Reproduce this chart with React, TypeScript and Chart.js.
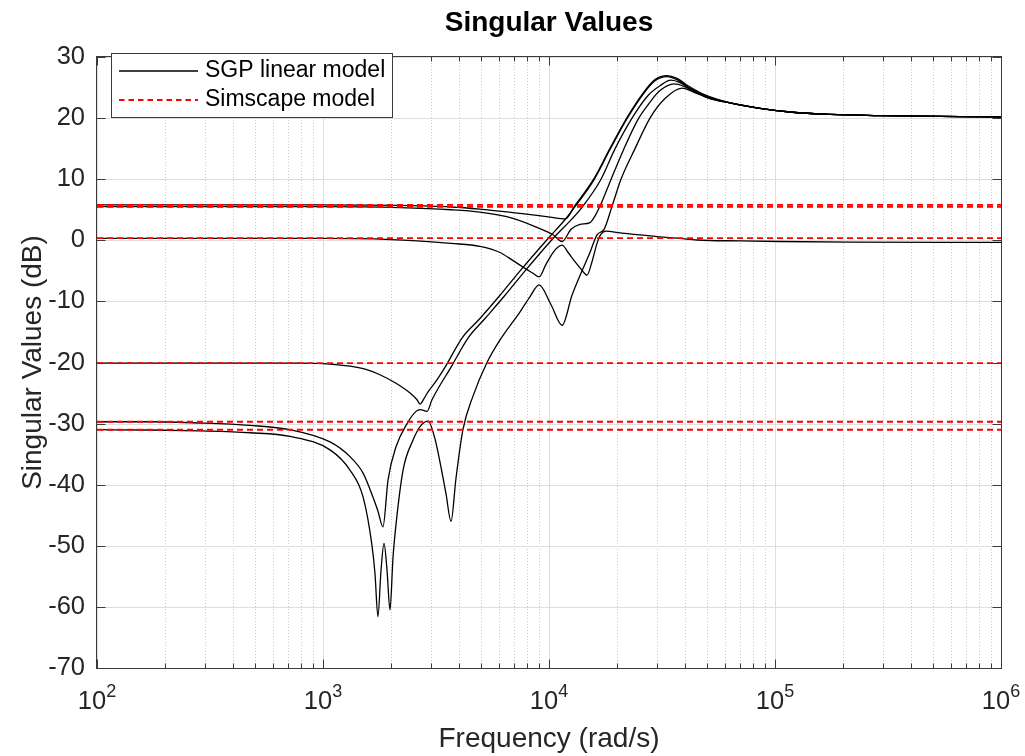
import React, { useEffect, useRef } from "react";
import { Chart, registerables } from "chart.js";

Chart.register(...registerables);

// ---------- data (frequency in rad/s, singular values in dB) ----------
const sv1Freq = [100, 1000, 2191, 3685, 4950, 7447, 10100, 11790, 13030, 15810, 18640, 22140, 26080, 29440, 33270, 36840, 41210, 49000, 63230, 85830, 116500, 175100, 291500, 1000000];
const sv1Db = [5.8, 5.8, 5.7, 5.45, 5.1, 4.4, 3.8, 3.5, 5.7, 10.1, 15.1, 20.1, 24.1, 26.3, 26.95, 26.5, 25.3, 23.8, 22.5, 21.6, 21.0, 20.6, 20.4, 20.2];

const sv2Freq = [100, 1000, 2191, 3685, 4950, 6925, 9128, 10420, 11430, 12520, 13710, 15180, 15990, 16820, 18830, 21470, 24770, 27980, 30980, 35730, 39570, 44260, 51580, 63230, 85830, 116500, 175100, 291500, 1000000];
const sv2Db = [5.5, 5.5, 5.35, 5.0, 4.6, 3.6, 1.9, 0.9, -0.2, 1.8, 2.6, 2.9, 4.0, 5.6, 10.0, 15.0, 19.8, 22.6, 24.5, 25.6, 25.2, 24.3, 23.2, 22.5, 21.6, 21.0, 20.6, 20.4, 20.2];

const sv3Freq = [100, 1000, 1786, 3036, 3685, 4950, 6071, 6855, 7836, 8498, 9036, 9706, 10420, 10970, 11430, 12150, 13030, 14000, 14730, 15500, 16310, 16990, 17880, 20610, 25290, 30060, 37990, 45170, 70010, 105200, 214700, 1000000];
const sv3Db = [0.3, 0.3, 0.2, -0.25, -0.5, -1.0, -2.0, -3.2, -4.6, -5.4, -6.0, -3.9, -2.0, -1.1, -0.8, -2.0, -3.5, -4.9, -5.7, -3.5, -0.5, 1.0, 1.5, 1.2, 0.9, 0.6, 0.3, 0.05, -0.1, -0.2, -0.3, -0.35];

const sv4Freq = [100, 791.4, 1074, 1316, 1535, 1786, 2104, 2428, 2606, 2687, 2799, 2917, 3130, 3502, 4121, 4950, 6071, 7447, 9910, 11790, 13030, 15810, 18640, 22140, 26080, 29440, 33270, 36840, 41210, 49000, 63230, 85830, 116500, 175100, 291500, 1000000];
const sv4Db = [-20.1, -20.1, -20.25, -20.6, -21.1, -22.0, -23.4, -25.0, -26.1, -26.8, -25.9, -24.8, -23.3, -20.5, -16.0, -12.8, -9.0, -5.0, 0.3, 3.4, 5.5, 9.9, 14.9, 19.9, 23.9, 26.1, 26.8, 26.3, 25.1, 23.7, 22.5, 21.6, 21.0, 20.6, 20.4, 20.2];

const sv5Freq = [100, 171.6, 285.6, 475.3, 714.5, 1074, 1316, 1504, 1663, 1750, 1842, 1940, 2104, 2355, 2580, 2687, 2886, 3036, 3721, 4382, 5210, 6388, 7836, 10420, 12640, 14140, 16990, 19610, 23300, 27430, 30980, 34660, 37990, 42060, 50020, 63230, 85830, 116500, 175100, 291500, 1000000];
const sv5Db = [-29.7, -29.7, -29.9, -30.3, -31.0, -33.0, -35.4, -38.1, -42.0, -44.3, -46.9, -39.2, -33.8, -30.0, -28.0, -27.7, -28.0, -26.1, -20.5, -16.0, -12.8, -9.0, -5.0, 0.3, 3.5, 5.6, 10.0, 15.0, 20.0, 23.7, 25.3, 26.2, 25.8, 24.8, 23.5, 22.5, 21.6, 21.0, 20.6, 20.4, 20.2];

const sv6Freq = [100, 171.6, 285.6, 475.3, 714.5, 1074, 1316, 1504, 1648, 1698, 1750, 1806, 1862, 1920, 1979, 2040, 2104, 2261, 2503, 2714, 2917, 3130, 3297, 3502, 3685, 3875, 4161, 4610, 5318, 6071, 7447, 8245, 9036, 10200, 11430, 12640, 14000, 15180, 16310, 17520, 19020, 20820, 24020, 27980, 32600, 38770, 43380, 51580, 63230, 85830, 116500, 175100, 291500, 1000000];
const sv6Db = [-31.0, -31.05, -31.2, -31.5, -32.1, -34.3, -37.6, -42.0, -50.0, -54.5, -61.6, -54.0, -49.6, -54.0, -60.5, -52.0, -46.5, -37.6, -32.7, -30.3, -29.6, -32.5, -36.4, -41.5, -46.0, -39.0, -31.0, -25.5, -20.0, -16.3, -11.7, -9.2, -7.3, -10.5, -13.9, -9.0, -5.0, -2.0, 0.9, 1.8, 5.6, 10.0, 15.0, 20.0, 23.2, 24.9, 24.3, 23.2, 22.5, 21.6, 21.0, 20.6, 20.4, 20.2];

const simscapeDb = [5.8, 5.5, 0.35, -20.1, -29.7, -31.0];
const freqRange = [100, 1000000];

const yTickValues = [30, 20, 10, 0, -10, -20, -30, -40, -50, -60, -70];
const xTickExponents = [2, 3, 4, 5, 6];
const minorMultipliers = [2, 3, 4, 5, 6, 7, 8, 9];

const titleText = "Singular Values";
const xLabelText = "Frequency (rad/s)";
const yLabelText = "Singular Values (dB)";
const sgpLabel = "SGP linear model";
const simLabel = "Simscape model";

const FONT = '"Liberation Sans", Arial, Helvetica, sans-serif';
const AXIS_COLOR = "#3a3a3a";
const TEXT_COLOR = "#262626";

const decorPlugin = {
  id: "decor",
  beforeDatasetsDraw(chart: any) {
    const { ctx, chartArea: a, scales } = chart;
    const x = scales.x;
    const y = scales.y;
    ctx.save();
    ctx.lineWidth = 1;
    ctx.strokeStyle = "#c9c9c9";
    ctx.setLineDash([1, 2]);
    for (let e = 2; e < 6; e++) {
      for (const m of minorMultipliers) {
        const px = Math.round(x.getPixelForValue(m * Math.pow(10, e))) + 0.5;
        ctx.beginPath();
        ctx.moveTo(px, a.top);
        ctx.lineTo(px, a.bottom);
        ctx.stroke();
      }
    }
    ctx.setLineDash([]);
    ctx.strokeStyle = "#dedede";
    for (const e of xTickExponents) {
      const px = Math.round(x.getPixelForValue(Math.pow(10, e))) + 0.5;
      ctx.beginPath();
      ctx.moveTo(px, a.top);
      ctx.lineTo(px, a.bottom);
      ctx.stroke();
    }
    for (const v of yTickValues) {
      const py = Math.round(y.getPixelForValue(v)) + 0.5;
      ctx.beginPath();
      ctx.moveTo(a.left, py);
      ctx.lineTo(a.right, py);
      ctx.stroke();
    }
    ctx.restore();
  },
  afterDatasetsDraw(chart: any) {
    const { ctx, chartArea: a, scales } = chart;
    const x = scales.x;
    const y = scales.y;
    ctx.save();
    ctx.strokeStyle = AXIS_COLOR;
    ctx.lineWidth = 1;
    const L = Math.round(a.left) - 0.5;
    const R = Math.round(a.right) + 0.5;
    const T = Math.round(a.top) - 0.5;
    const B = Math.round(a.bottom) + 0.5;
    ctx.strokeRect(L, T, R - L, B - T);
    const tick = (px: number, len: number) => {
      ctx.beginPath();
      ctx.moveTo(px, B);
      ctx.lineTo(px, B - len);
      ctx.moveTo(px, T);
      ctx.lineTo(px, T + len);
      ctx.stroke();
    };
    for (const e of xTickExponents) tick(Math.round(x.getPixelForValue(Math.pow(10, e))) + 0.5, 9);
    for (let e = 2; e < 6; e++)
      for (const m of minorMultipliers) tick(Math.round(x.getPixelForValue(m * Math.pow(10, e))) + 0.5, 5);
    for (const v of yTickValues) {
      const py = Math.round(y.getPixelForValue(v)) + 0.5;
      ctx.beginPath();
      ctx.moveTo(L, py);
      ctx.lineTo(L + 9, py);
      ctx.moveTo(R, py);
      ctx.lineTo(R - 9, py);
      ctx.stroke();
    }
    ctx.restore();
  },
  afterDraw(chart: any) {
    const { ctx, chartArea: a, scales } = chart;
    const x = scales.x;
    const y = scales.y;
    const cx = (a.left + a.right) / 2;
    const cy = (a.top + a.bottom) / 2;
    ctx.save();
    ctx.fillStyle = "#000";
    ctx.font = `bold 28px ${FONT}`;
    ctx.textAlign = "center";
    ctx.textBaseline = "alphabetic";
    ctx.fillText(titleText, cx, 31);
    ctx.fillStyle = TEXT_COLOR;
    ctx.font = `28px ${FONT}`;
    ctx.fillText(xLabelText, cx, 747);
    ctx.save();
    ctx.translate(41, cy);
    ctx.rotate(-Math.PI / 2);
    ctx.fillText(yLabelText, 0, 0);
    ctx.restore();
    ctx.font = `25.5px ${FONT}`;
    ctx.textAlign = "right";
    ctx.textBaseline = "middle";
    for (const v of yTickValues) {
      ctx.fillText(String(v), a.left - 12, y.getPixelForValue(v));
    }
    ctx.textAlign = "left";
    ctx.textBaseline = "alphabetic";
    for (const e of xTickExponents) {
      const px = x.getPixelForValue(Math.pow(10, e));
      ctx.font = `25.5px ${FONT}`;
      const wb = ctx.measureText("10").width;
      ctx.font = `18px ${FONT}`;
      const we = ctx.measureText(String(e)).width;
      const left = px - (wb + we) / 2;
      ctx.font = `25.5px ${FONT}`;
      ctx.fillText("10", left, 709);
      ctx.font = `18px ${FONT}`;
      ctx.fillText(String(e), left + wb, 697);
    }
    const bx = 111.5, by = 53.5, bw = 281, bh = 64;
    ctx.fillStyle = "#fff";
    ctx.fillRect(bx, by, bw, bh);
    ctx.strokeStyle = AXIS_COLOR;
    ctx.lineWidth = 1;
    ctx.strokeRect(bx, by, bw, bh);
    ctx.lineWidth = 1.3;
    ctx.strokeStyle = "#000";
    ctx.beginPath();
    ctx.moveTo(119, 71);
    ctx.lineTo(198, 71);
    ctx.stroke();
    ctx.strokeStyle = "rgb(255,0,0)";
    ctx.lineWidth = 1.8;
    ctx.setLineDash([5.5, 4]);
    ctx.beginPath();
    ctx.moveTo(119, 100);
    ctx.lineTo(198, 100);
    ctx.stroke();
    ctx.setLineDash([]);
    ctx.fillStyle = "#000";
    ctx.font = `23px ${FONT}`;
    ctx.textBaseline = "middle";
    ctx.fillText(sgpLabel, 205, 71);
    ctx.fillText(simLabel, 205, 100);
    ctx.restore();
  },
};

export default function App() {
  const ref = useRef<HTMLCanvasElement | null>(null);
  useEffect(() => {
    if (!ref.current) return;
    const sgp: [number[], number[]][] = [
      [sv1Freq, sv1Db],
      [sv2Freq, sv2Db],
      [sv3Freq, sv3Db],
      [sv4Freq, sv4Db],
      [sv5Freq, sv5Db],
      [sv6Freq, sv6Db],
    ];
    const datasets: any[] = [
      ...simscapeDb.map((v) => ({
        label: simLabel,
        data: freqRange.map((f) => ({ x: f, y: v })),
        borderColor: "rgb(255,0,0)",
        borderWidth: 1.9,
        borderDash: [6, 4],
        pointRadius: 0,
        tension: 0,
        order: 0,
      })),
      ...sgp.map(([f, d]) => ({
        label: sgpLabel,
        data: f.map((fv, j) => ({ x: fv, y: d[j] })),
        borderColor: "#000",
        borderWidth: 1.3,
        pointRadius: 0,
        cubicInterpolationMode: "monotone",
        order: 1,
      })),
    ];
    const chart = new Chart(ref.current, {
      type: "line",
      data: { datasets },
      options: {
        responsive: false,
        animation: false,
        devicePixelRatio: 1,
        layout: { padding: { top: 57, left: 97, right: 24, bottom: 88 } },
        scales: {
          x: { type: "logarithmic", min: 100, max: 1000000, display: false },
          y: { type: "linear", min: -70, max: 30, display: false },
        },
        plugins: {
          legend: { display: false },
          title: { display: false },
          tooltip: { enabled: false },
        },
        elements: { point: { radius: 0 } },
      },
      plugins: [decorPlugin],
    } as any);
    return () => chart.destroy();
  }, []);
  return (
    <div style={{ position: "fixed", left: 0, top: 0, width: 1025, height: 756, background: "#fff" }}>
      <canvas ref={ref} width={1025} height={756} style={{ display: "block" }} />
    </div>
  );
}
